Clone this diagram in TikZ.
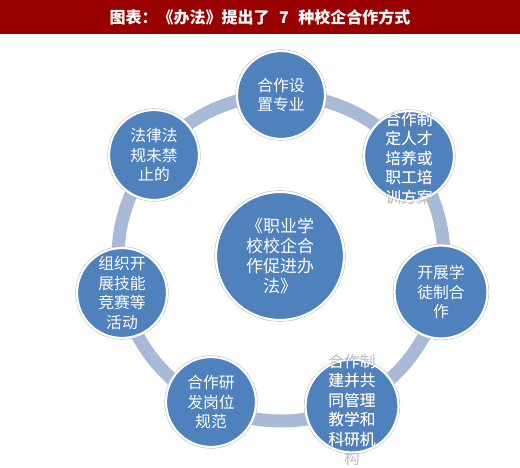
\documentclass[tikz,border=0pt]{standalone}
\usepackage{fontspec}
\newfontfamily\cjk{Noto Sans CJK SC}
\definecolor{barred}{RGB}{153,0,0}
\definecolor{ballblue}{RGB}{79,129,189}
\definecolor{ringc}{RGB}{168,186,216}
\begin{document}
\begin{tikzpicture}[x=1pt,y=-1pt,
  ball/.style={circle, fill=ballblue, draw=white, line width=2.2pt, minimum size=#1, inner sep=0pt,
    preaction={draw=gray!55, line width=3.2pt}},
  lab/.style={text=white, font=\cjk\fontsize{15.8}{19.5}\selectfont, align=center, inner sep=0pt},
  hublab/.style={text=white, font=\cjk\fontsize{17}{20}\selectfont, align=center, inner sep=0pt},
  ghost/.style={lab, text=gray!50},
  ringline/.style={draw=ringc, line width=13pt}]
\useasboundingbox (0,0) rectangle (520,468);
\fill[barred] (0,0) rectangle (520,34);
\node[text=white, font=\cjk\bfseries\fontsize{16}{16}\selectfont] (title) at (260,17) {图表：《办法》提出了\hspace{0.6em}7\hspace{0.6em}种校企合作方式};
\coordinate (o) at (281,258);
\draw[ringline] (o) circle[radius=163pt];
\node[ball=128pt] (hub) at (280,256) {};
\node[hublab] (hubt) at (hub) {《职业学\\校校企合\\作促进办\\法》};
\node[ball=88pt] (n1) at (281,95) {};
\node[ball=90pt] (n2) at (409,156) {};
\node[ball=93pt] (n3) at (441,292) {};
\node[ball=93pt] (n4) at (352,406) {};
\node[ball=90pt] (n5) at (211,402) {};
\node[ball=90pt] (n6) at (122,293) {};
\node[ball=90pt] (n7) at (154,155) {};
\node[lab] (t1) at (n1) {合作设\\置专业};
\node[ghost] (g2) at ([yshift=-2pt]n2.center) {合作制\\定人才\\培养或\\职工培\\训方案};
\begin{scope}
  \clip (n2.center) circle[radius=45pt];
  \node[lab] (t2) at ([yshift=-2pt]n2.center) {合作制\\定人才\\培养或\\职工培\\训方案};
\end{scope}
\node[lab] (t3) at (n3) {开展学\\徒制合\\作};
\node[ghost] (g4) at ([yshift=-4pt]n4.center) {合作制\\建并共\\同管理\\教学和\\科研机\\构};
\begin{scope}
  \clip (n4.center) circle[radius=46.5pt];
  \node[lab] (t4) at ([yshift=-4pt]n4.center) {合作制\\建并共\\同管理\\教学和\\科研机\\构};
\end{scope}
\node[lab] (t5) at (n5) {合作研\\发岗位\\规范};
\node[lab] (t6) at (n6) {组织开\\展技能\\竞赛等\\活动};
\node[lab] (t7) at (n7) {法律法\\规未禁\\止的};
\end{tikzpicture}
\end{document}
